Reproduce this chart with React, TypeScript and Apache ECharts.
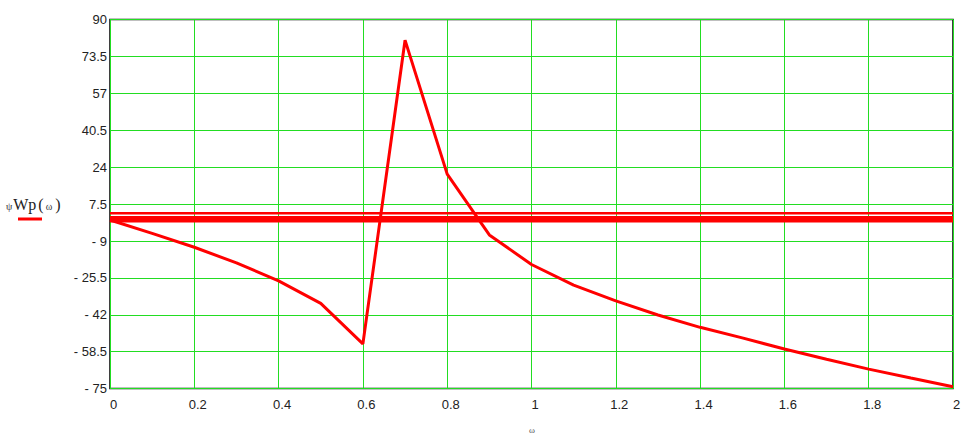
import React, { useEffect, useRef } from "react";
import * as echarts from "echarts";

const omega = [0, 0.1, 0.2, 0.3, 0.4, 0.5, 0.6, 0.7, 0.8, 0.9, 1.0, 1.1, 1.2, 1.3, 1.4, 1.5, 1.6, 1.7, 1.8, 1.9, 2.0];
const psiWp = [0.4, -5.6, -11.8, -18.8, -26.8, -36.9, -55.0, 80.8, 20.9, -6.3, -19.5, -28.7, -35.8, -42.1, -47.6, -52.3, -57.3, -61.9, -66.3, -70.3, -74.2];
const hLevels = [3.4, 1.4, 0];
const hWidths = [2.5, 3.5, 3.5];
const yMin = -75;
const yMax = 90;
const yStep = 16.5;
const xMin = 0;
const xMax = 2;
const xStep = 0.2;

export default function App() {
  const ref = useRef<HTMLDivElement>(null);
  useEffect(() => {
    document.body.style.margin = "0";
    const chart = echarts.init(ref.current!, null, { renderer: "svg" });
    const mainData = omega.map((x, i) => [x, psiWp[i]]);
    const hSeries = hLevels.map((v, i) => ({
      type: "line",
      data: [[xMin, v], [xMax, v]],
      symbol: "none",
      lineStyle: { color: "#ff0000", width: hWidths[i] },
      z: 3,
    }));
    chart.setOption({
      animation: false,
      backgroundColor: "#ffffff",
      grid: { left: 110, top: 19.6, right: 25, bottom: 49.4, show: true, borderColor: "#000000", borderWidth: 1.5, backgroundColor: "transparent" },
      xAxis: {
        type: "value",
        min: xMin,
        max: xMax,
        interval: xStep,
        axisLine: { show: false },
        axisTick: { show: false },
        splitLine: { show: true, lineStyle: { color: "#22dd22", width: 1 } },
        axisLabel: {
          color: "#222222",
          fontFamily: "Liberation Sans",
          fontSize: 13,
          margin: 9,
          padding: [0, 0, 0, 7],
          formatter: (v: number) => String(Number(v.toFixed(1))),
        },
      },
      yAxis: {
        type: "value",
        min: yMin,
        max: yMax,
        interval: yStep,
        axisLine: { show: false },
        axisTick: { show: false },
        splitLine: { show: true, lineStyle: { color: "#22dd22", width: 1 } },
        axisLabel: {
          color: "#222222",
          fontFamily: "Liberation Sans",
          fontSize: 13,
          margin: 3,
          formatter: (v: number) => {
            const r = Number(v.toFixed(1));
            return r < 0 ? "- " + Math.abs(r) : String(r);
          },
        },
      },
      series: [
        ...hSeries,
        {
          type: "line",
          data: mainData,
          symbol: "none",
          lineStyle: { color: "#ff0000", width: 3 },
          z: 4,
        },
      ],
      graphic: [
        {
          type: "text",
          left: 6,
          top: 196,
          style: {
            text: "{a|ψ}{b|Wp}{c|(}{a|ω}{c|)}",
            rich: {
              a: { fontFamily: "Liberation Serif", fontSize: 10, fill: "#333333", padding: [4, 1, 0, 1] },
              b: { fontFamily: "Liberation Serif", fontSize: 16, fill: "#222222" },
              c: { fontFamily: "Liberation Serif", fontSize: 16, fill: "#222222", padding: [0, 1, 0, 2] },
            },
          },
        },
        {
          type: "line",
          shape: { x1: 18, y1: 219, x2: 42, y2: 219 },
          style: { stroke: "#ff0000", lineWidth: 3 },
        },
        {
          type: "text",
          left: 529,
          top: 425,
          style: { text: "ω", fontFamily: "Liberation Serif", fontSize: 9, fill: "#555555" },
        },
      ],
    });
    return () => chart.dispose();
  }, []);
  return <div ref={ref} style={{ width: 978, height: 438 }} />;
}
